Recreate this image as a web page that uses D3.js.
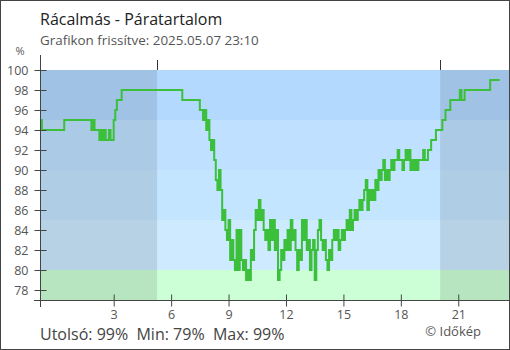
<!DOCTYPE html>
<html>
<head>
<meta charset="utf-8">
<script src="https://cdn.jsdelivr.net/npm/d3@7"></script>
<style>
    body { margin: 0; background: #fff; }
    svg { display: block; font-family: "Open Sans", sans-serif; }
</style>
</head>
<body>
<div id="chart"></div>
<script>
var title = "Rácalmás - Páratartalom";
var subtitle = "Grafikon frissítve: 2025.05.07 23:10";
var credit = "© Időkép";

// hours relative to midnight of 2025.05.07 (first sample is 23:10 the day before)
var firstSample = -50 / 60;
var stepMinutes = 5;
var timeDomain = [-51 / 60, 23 + 39 / 60];
var sunrise = 5 + 16 / 60;
var sunset = 20 + 3 / 60;

var xTicks = [3, 6, 9, 12, 15, 18, 21];
var yTicks = [78, 80, 82, 84, 86, 88, 90, 92, 94, 96, 98, 100];

// humidity bands (upper, lower, colour)
var bandTops = [100, 95, 90, 85, 80];
var bandBottoms = [95, 90, 85, 80, 77];
var bandColors = ["#b3d9ff", "#bfe1ff", "#c3e5ff", "#cdeaff", "#ccffd5"];

// relative humidity %, one value every 5 minutes, one row per hour
var humidity = [
    95, 94, 94, 94, 94, 94, 94, 94, 94, 94, 94, 94,
    94, 94, 94, 95, 95, 95, 95, 95, 95, 95, 95, 95,
    95, 95, 95, 95, 95, 95, 95, 95, 94, 95, 94, 94,
    94, 93, 94, 93, 94, 93, 93, 94, 93, 93, 95, 96,
    97, 97, 97, 98, 98, 98, 98, 98, 98, 98, 98, 98,
    98, 98, 98, 98, 98, 98, 98, 98, 98, 98, 98, 98,
    98, 98, 98, 98, 98, 98, 98, 98, 98, 98, 98, 98,
    98, 98, 98, 98, 98, 97, 97, 97, 97, 97, 97, 97,
    97, 97, 97, 97, 96, 96, 95, 96, 94, 95, 93, 92,
    93, 91, 89, 88, 90, 88, 85, 86, 84, 83, 85, 81,
    83, 81, 80, 84, 80, 84, 81, 80, 81, 79, 80, 79,
    82, 81, 84, 86, 85, 87, 85, 86, 84, 83, 84, 82,
    85, 83, 85, 82, 84, 79, 80, 82, 81, 83, 82, 84,
    82, 85, 83, 84, 82, 80, 82, 81, 85, 83, 85, 82,
    83, 80, 82, 83, 79, 82, 84, 85, 83, 82, 83, 81,
    80, 82, 81, 83, 84, 83, 84, 82, 83, 84, 83, 84,
    85, 84, 86, 84, 85, 86, 85, 86, 87, 86, 87, 88,
    89, 86, 88, 87, 88, 87, 89, 88, 90, 89, 90, 91,
    89, 90, 89, 90, 91, 90, 91, 91, 92, 91, 91, 90,
    91, 92, 91, 92, 90, 91, 90, 91, 90, 91, 91, 91,
    92, 91, 91, 92, 92, 93, 93, 93, 94, 94, 94, 94,
    95, 95, 96, 96, 96, 97, 97, 97, 97, 97, 97, 98,
    97, 97, 98, 98, 98, 98, 98, 98, 98, 98, 98, 98,
    98, 98, 98, 98, 98, 98, 99, 99, 99, 99, 99, 99,
    99
];

var W = 510, H = 350;
var plot = { left: 40, right: 509, top: 70, bottom: 300 };

var svg = d3.select("#chart").append("svg")
    .attr("width", W)
    .attr("height", H);

var x = d3.scaleLinear().domain(timeDomain).range([plot.left, plot.right]);
var y = d3.scaleLinear().domain([77, 100]).range([plot.bottom, plot.top]);

var data = humidity.map(function (v, i) {
    return { t: firstSample + i * stepMinutes / 60, v: v };
});

// background bands
svg.selectAll(".band")
    .data(bandTops)
    .enter().append("rect")
    .attr("class", "band")
    .attr("x", plot.left)
    .attr("width", plot.right - plot.left)
    .attr("y", function (d) { return y(d); })
    .attr("height", function (d, i) { return y(bandBottoms[i]) - y(d); })
    .style("fill", function (d, i) { return bandColors[i]; });

// night shading
var nights = [[timeDomain[0], sunrise], [sunset, timeDomain[1]]];
svg.selectAll(".night")
    .data(nights)
    .enter().append("rect")
    .attr("class", "night")
    .attr("x", function (d) { return x(d[0]); })
    .attr("width", function (d) { return x(d[1]) - x(d[0]); })
    .attr("y", plot.top)
    .attr("height", plot.bottom - plot.top)
    .style("fill", "#000")
    .style("opacity", 0.1);

// sunrise / sunset markers above the plot
svg.selectAll(".sun")
    .data([sunrise, sunset])
    .enter().append("line")
    .attr("x1", function (d) { return Math.round(x(d)) + 0.5; })
    .attr("x2", function (d) { return Math.round(x(d)) + 0.5; })
    .attr("y1", plot.top - 10)
    .attr("y2", plot.top)
    .style("stroke", "#333");

svg.append("clipPath").attr("id", "clip")
    .append("rect")
    .attr("x", plot.left).attr("y", plot.top)
    .attr("width", plot.right - plot.left).attr("height", plot.bottom - plot.top);

var line = d3.line()
    .x(function (d) { return x(d.t); })
    .y(function (d) { return y(d.v); })
    .curve(d3.curveStepAfter);

svg.append("path")
    .datum(data)
    .attr("clip-path", "url(#clip)")
    .attr("d", line)
    .style("fill", "none")
    .style("stroke", "#3cc03c")
    .style("stroke-width", 2);

// y axis
var yAxis = svg.append("g")
    .attr("transform", "translate(" + (plot.left + 0.5) + ",0)")
    .call(d3.axisLeft(y).tickValues(yTicks).tickSize(6).tickPadding(6));
yAxis.select(".domain").remove();
yAxis.selectAll(".tick line").attr("x1", 6).attr("x2", -6).style("stroke", "#444");
yAxis.selectAll(".tick text").style("font-size", "12.5px").style("fill", "#555")
    .style("font-family", "'Open Sans', sans-serif");
yAxis.append("line")
    .attr("y1", plot.top - 15).attr("y2", plot.bottom + 7)
    .style("stroke", "#444");

// x axis
var xAxis = svg.append("g")
    .attr("transform", "translate(0," + (plot.bottom + 0.5) + ")")
    .call(d3.axisBottom(x).tickValues(xTicks).tickSize(6).tickPadding(4));
xAxis.select(".domain").remove();
xAxis.selectAll(".tick line").attr("y1", -6).attr("y2", 6).style("stroke", "#444");
xAxis.selectAll(".tick text").style("font-size", "12.5px").style("fill", "#555")
    .style("font-family", "'Open Sans', sans-serif");
xAxis.append("line")
    .attr("x1", plot.left - 6).attr("x2", plot.right)
    .style("stroke", "#444");

// texts
svg.append("text").attr("x", 40).attr("y", 25)
    .text(title)
    .style("font-size", "16px").style("fill", "#222");
svg.append("text").attr("x", 40).attr("y", 45)
    .text(subtitle)
    .style("font-size", "13.4px").style("fill", "#555");
svg.append("text").attr("x", 20).attr("y", 55)
    .attr("text-anchor", "middle")
    .text("%")
    .style("font-size", "11px").style("fill", "#555");

var last = humidity[humidity.length - 1];
var stats = "Utolsó: " + last + "%  Min: " + d3.min(humidity) + "%  Max: " + d3.max(humidity) + "%";
svg.append("text").attr("x", 40).attr("y", 340)
    .text(stats)
    .style("white-space", "pre")
    .style("font-size", "16px").style("fill", "#444");
svg.append("text").attr("x", 481).attr("y", 336)
    .attr("text-anchor", "end")
    .text(credit)
    .style("font-size", "13px").style("fill", "#555");

// outer frame
svg.append("rect")
    .attr("x", 0.5).attr("y", 0.5)
    .attr("width", W - 1).attr("height", H - 1)
    .style("fill", "none")
    .style("stroke", "#444");
</script>
</body>
</html>
